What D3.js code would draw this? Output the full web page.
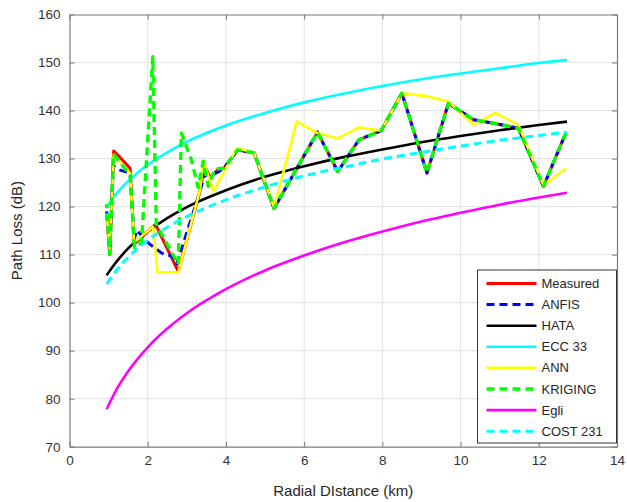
<!DOCTYPE html>
<html>
<head>
<meta charset="utf-8">
<script src="https://cdn.jsdelivr.net/npm/d3@7"></script>
<style>
body { margin: 0; background: #fff; }
text { font-family: "Liberation Sans", Arial, sans-serif; }
</style>
</head>
<body>
<div class="chart"></div>
<script>
// Measured points and model outputs (km, dB)
var measuredX = [0.95, 1.03, 1.13, 1.55, 1.65, 2.20, 2.78, 3.33, 3.45, 3.60, 3.80, 3.95, 4.30, 4.72, 5.23, 6.34, 6.86, 7.40, 7.97, 8.50, 9.14, 9.69, 10.33, 10.88, 11.48, 12.12, 12.70];
var measuredY = [118.5, 110.0, 131.6, 128.0, 112.2, 116.3, 106.5, 123.0, 128.5, 126.0, 127.8, 128.0, 131.8, 131.2, 119.6, 135.5, 127.3, 133.9, 135.8, 143.6, 127.0, 141.5, 138.1, 137.3, 136.3, 124.2, 135.5];

var anfisX = [0.95, 1.03, 1.12, 1.29, 1.55, 1.65, 1.72, 2.02, 2.36, 2.65, 2.74, 3.33, 3.45, 3.60, 3.80, 3.95, 4.30, 4.72, 5.23, 6.34, 6.86, 7.40, 7.97, 8.50, 9.14, 9.69, 10.33, 10.88, 11.48, 12.12, 12.70];
var anfisY = [119.0, 111.0, 128.5, 127.6, 127.0, 113.0, 115.1, 112.4, 110.3, 109.6, 108.0, 123.0, 126.5, 126.5, 127.2, 128.0, 131.8, 131.2, 119.6, 135.5, 127.3, 133.9, 135.8, 143.6, 127.0, 141.5, 138.1, 137.3, 136.3, 124.2, 135.5];

var annX = [0.95, 1.03, 1.13, 1.55, 1.65, 2.14, 2.25, 2.78, 3.34, 3.42, 3.68, 4.28, 4.72, 5.23, 5.81, 6.34, 6.86, 7.41, 7.97, 8.50, 9.14, 9.69, 10.33, 10.88, 11.48, 12.12, 12.70];
var annY = [118.5, 111.0, 130.8, 126.9, 112.5, 115.8, 106.3, 106.3, 123.5, 129.7, 123.1, 132.2, 131.2, 119.8, 137.7, 135.3, 134.2, 136.5, 135.8, 143.6, 143.0, 141.9, 137.0, 139.5, 137.0, 124.4, 128.0];

var krigingX = [0.95, 1.03, 1.12, 1.55, 1.66, 1.84, 2.13, 2.22, 2.78, 2.86, 3.12, 3.29, 3.42, 3.55, 3.72, 3.95, 4.30, 4.72, 5.23, 6.34, 6.86, 7.40, 7.97, 8.50, 9.14, 9.69, 10.33, 10.88, 11.48, 12.12, 12.70];
var krigingY = [120.5, 110.0, 131.0, 126.5, 111.5, 112.5, 151.2, 116.3, 108.0, 135.3, 129.7, 124.0, 129.4, 124.2, 127.8, 128.0, 131.8, 131.2, 119.6, 135.5, 127.3, 133.9, 135.8, 143.6, 127.0, 141.5, 138.1, 137.3, 136.3, 124.2, 135.5];

// Empirical model curves, sampled at these distances
var modelX = [0.95, 1.2, 1.5, 2, 2.5, 3, 4, 5, 6, 7, 8, 9, 10, 11, 12, 12.72];
var hataY = [105.7, 108.5, 111.3, 114.8, 117.6, 119.9, 123.4, 126.2, 128.4, 130.3, 131.9, 133.4, 134.7, 135.9, 137.0, 137.7];
var ecc33Y = [119.9, 122.7, 125.3, 128.7, 131.3, 133.5, 136.9, 139.5, 141.7, 143.5, 145.1, 146.5, 147.7, 148.8, 149.9, 150.5];
var egliY = [77.8, 81.9, 85.7, 90.7, 94.6, 97.8, 102.8, 106.7, 109.8, 112.5, 114.8, 116.9, 118.7, 120.4, 121.9, 122.9];
var cost231Y = [103.9, 106.7, 109.4, 113.0, 115.7, 117.9, 121.4, 124.1, 126.4, 128.2, 129.9, 131.3, 132.6, 133.8, 134.8, 135.5];

var xTicks = [0, 2, 4, 6, 8, 10, 12, 14];
var yTicks = [70, 80, 90, 100, 110, 120, 130, 140, 150, 160];

var svgWidth = 627;
var svgHeight = 502;
var margin = { top: 14.5, right: 10, bottom: 55.3, left: 69.5 };
var width = svgWidth - margin.left - margin.right;
var height = svgHeight - margin.top - margin.bottom;

var svg = d3.select(".chart")
    .append("svg")
    .attr("width", svgWidth)
    .attr("height", svgHeight);

var chartGroup = svg.append("g")
    .attr("transform", `translate(${margin.left}, ${margin.top})`);

var xScale = d3.scaleLinear().domain([0, 14]).range([0, width]);
var yScale = d3.scaleLinear().domain([70, 160]).range([height, 0]);

// grid
chartGroup.append("g").selectAll("line")
    .data(xTicks.slice(1, -1))
    .enter().append("line")
    .attr("x1", d => xScale(d)).attr("x2", d => xScale(d))
    .attr("y1", 0).attr("y2", height)
    .attr("stroke", "#e3e3e3").attr("stroke-width", 1);

chartGroup.append("g").selectAll("line")
    .data(yTicks.slice(1, -1))
    .enter().append("line")
    .attr("y1", d => yScale(d)).attr("y2", d => yScale(d))
    .attr("x1", 0).attr("x2", width)
    .attr("stroke", "#e3e3e3").attr("stroke-width", 1);

// axes, ticks pointing inward like matlab
var bottomAxis = d3.axisBottom(xScale).tickValues(xTicks).tickSizeInner(-5).tickSizeOuter(0).tickPadding(9);
var leftAxis = d3.axisLeft(yScale).tickValues(yTicks).tickSizeInner(-5).tickSizeOuter(0).tickPadding(9);
var topAxis = d3.axisTop(xScale).tickValues(xTicks).tickSizeInner(-5).tickSizeOuter(0).tickFormat("");
var rightAxis = d3.axisRight(yScale).tickValues(yTicks).tickSizeInner(-5).tickSizeOuter(0).tickFormat("");

function styleAxis(g) {
    g.select(".domain").attr("stroke", "#7a7a7a").attr("stroke-width", 1.2);
    g.selectAll(".tick line").attr("stroke", "#7a7a7a");
    g.selectAll(".tick text").attr("fill", "#333").style("font-size", "13.5px");
}

chartGroup.append("g").attr("transform", `translate(0, ${height})`).call(bottomAxis).call(styleAxis);
chartGroup.append("g").call(leftAxis).call(styleAxis);
chartGroup.append("g").call(topAxis).call(styleAxis);
chartGroup.append("g").attr("transform", `translate(${width}, 0)`).call(rightAxis).call(styleAxis);

// series
var series = [
    { name: "Measured", x: measuredX, y: measuredY, color: "#ff0000", dash: null, off: 0, w: 3, smooth: false },
    { name: "ANFIS", x: anfisX, y: anfisY, color: "#0000ff", dash: "8,5", off: 0, w: 3, smooth: false },
    { name: "HATA", x: modelX, y: hataY, color: "#000000", dash: null, off: 0, w: 2.6, smooth: true },
    { name: "ECC 33", x: modelX, y: ecc33Y, color: "#00ffff", dash: null, off: 0, w: 2.6, smooth: true },
    { name: "ANN", x: annX, y: annY, color: "#ffff00", dash: null, off: 0, w: 2.6, smooth: false },
    { name: "KRIGING", x: krigingX, y: krigingY, color: "#00ff00", dash: "8,5", off: 4, w: 3.4, smooth: false },
    { name: "Egli", x: modelX, y: egliY, color: "#ff00ff", dash: null, off: 0, w: 2.6, smooth: true },
    { name: "COST 231", x: modelX, y: cost231Y, color: "#00ffff", dash: "8,5", off: 0, w: 3, smooth: true }
];

series.forEach(function(s) {
    var pts = s.x.map((d, i) => [d, s.y[i]]);
    var line = d3.line()
        .x(d => xScale(d[0]))
        .y(d => yScale(d[1]))
        .curve(s.smooth ? d3.curveMonotoneX : d3.curveLinear);
    chartGroup.append("path")
        .datum(pts)
        .attr("d", line)
        .attr("fill", "none")
        .attr("stroke", s.color)
        .attr("stroke-width", s.w)
        .attr("stroke-linejoin", "round")
        .attr("stroke-dasharray", s.dash)
        .attr("stroke-dashoffset", s.off);
});

// legend box
var legend = svg.append("g").attr("transform", "translate(477.5, 270)");
legend.append("rect")
    .attr("width", 139).attr("height", 173)
    .attr("fill", "#fff").attr("stroke", "#333").attr("stroke-width", 1);

var rows = legend.selectAll("g.row")
    .data(series)
    .enter().append("g")
    .attr("class", "row")
    .attr("transform", (d, i) => `translate(0, ${13.5 + i * 21.1})`);

rows.append("line")
    .attr("x1", 9).attr("x2", 59)
    .attr("stroke", d => d.color)
    .attr("stroke-width", d => d.w)
    .attr("stroke-dasharray", d => d.dash);

rows.append("text")
    .attr("x", 64).attr("dy", "0.35em")
    .attr("fill", "#262626")
    .style("font-size", "13px")
    .text(d => d.name);

// axis labels
svg.append("text")
    .attr("transform", `translate(22, ${margin.top + height / 2}) rotate(-90)`)
    .attr("text-anchor", "middle")
    .attr("fill", "#262626")
    .style("font-size", "15px")
    .text("Path Loss (dB)");

svg.append("text")
    .attr("x", margin.left + width / 2)
    .attr("y", 496)
    .attr("text-anchor", "middle")
    .attr("fill", "#262626")
    .style("font-size", "15px")
    .text("Radial DIstance (km)");
</script>
</body>
</html>
